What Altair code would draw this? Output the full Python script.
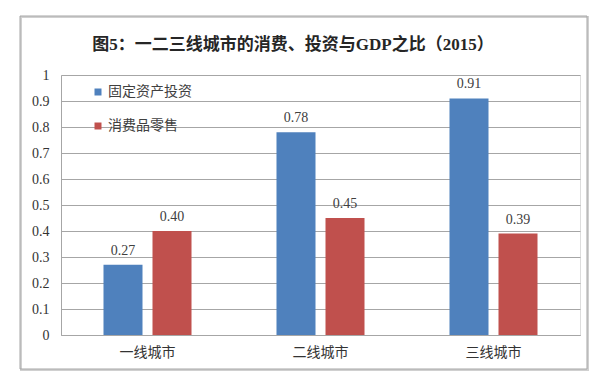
import altair as alt
import pandas as pd

cities = ["一线城市", "二线城市", "三线城市"]
series = ["固定资产投资", "消费品零售"]
invest = [0.27, 0.78, 0.91]
retail = [0.40, 0.45, 0.39]
colors = ["#4F81BD", "#C0504D"]
y_ticks = [0, 0.1, 0.2, 0.3, 0.4, 0.5, 0.6, 0.7, 0.8, 0.9, 1.0]
title_text = "图5：一二三线城市的消费、投资与GDP之比（2015）"

rows = []
for c, v in zip(cities, invest):
    rows.append({"city": c, "series": series[0], "value": v})
for c, v in zip(cities, retail):
    rows.append({"city": c, "series": series[1], "value": v})
df = pd.DataFrame(rows)

FONT = "Liberation Serif, Noto Sans CJK SC"
CJK = "Noto Sans CJK SC"

W, H = 519, 260

one = pd.DataFrame({"k": [0]})
shadow = alt.Chart(one).mark_rect(filled=False, stroke="#D0D0D0", strokeWidth=2).encode(
    x=alt.value(-40), x2=alt.value(527), y=alt.value(-58), y2=alt.value(295)
)
frame = alt.Chart(one).mark_rect(filled=False, stroke="#A6A6A6", strokeWidth=1).encode(
    x=alt.value(-41), x2=alt.value(526), y=alt.value(-59), y2=alt.value(294)
)
title = alt.Chart(one).mark_text(
    font=FONT, fontSize=17, fontWeight=600, color="#262626",
    align="center", baseline="middle",
).encode(x=alt.value(232), y=alt.value(-30), text=alt.value(title_text))

x_enc = alt.X(
    "city:N",
    sort=cities,
    scale=alt.Scale(paddingInner=0, paddingOuter=0),
    axis=alt.Axis(
        title=None, labelAngle=0, ticks=False, domain=True, domainColor="#A6A6A6",
        labelFont=CJK, labelFontSize=14, labelColor="#333333", labelPadding=10,
    ),
)
xoff = alt.XOffset(
    "series:N", sort=series,
    scale=alt.Scale(paddingInner=0.204, paddingOuter=0.867),
)
y_enc = alt.Y(
    "value:Q",
    scale=alt.Scale(domain=[0, 1], nice=False),
    axis=alt.Axis(
        title=None, values=y_ticks, format="~g", ticks=False, labelOverlap=False,
        domain=True, domainColor="#A6A6A6", gridColor="#A6A6A6", gridWidth=1,
        labelFont="Liberation Serif", labelFontSize=14, labelColor="#333333", labelPadding=12,
    ),
)

bars = alt.Chart(df).mark_bar().encode(
    x=x_enc,
    xOffset=xoff,
    y=y_enc,
    color=alt.Color(
        "series:N", sort=series,
        scale=alt.Scale(domain=series, range=colors),
        legend=alt.Legend(
            title=None, orient="none", legendX=30, legendY=10,
            symbolType="square", symbolSize=49, symbolStrokeWidth=0,
            labelFont=CJK, labelFontSize=14, labelColor="#404040",
            labelOffset=3, rowPadding=20,
        ),
    ),
)

labels = alt.Chart(df).mark_text(
    baseline="bottom", dy=-7, font="Liberation Serif", fontSize=14, color="#404040"
).encode(
    x=x_enc,
    xOffset=xoff,
    y=y_enc,
    text=alt.Text("value:Q", format=".2f"),
)

chart = alt.layer(shadow, frame, title, bars, labels).properties(
    width=W, height=H,
    autosize=alt.AutoSizeParams(type="none"),
    padding={"left": 53, "top": 67, "right": 12, "bottom": 40},
).configure_view(stroke=None).configure(background="white")

chart.save("out.html", embed_options={"renderer": "svg", "actions": False})
